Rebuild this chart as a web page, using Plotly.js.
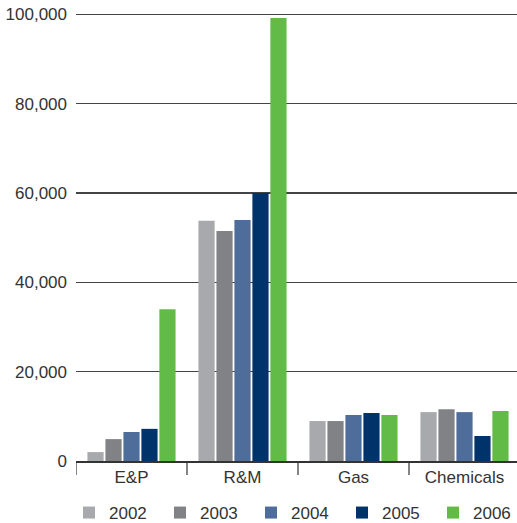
<!DOCTYPE html>
<html>
<head>
<meta charset="utf-8">
<script src="https://cdn.plot.ly/plotly-3.0.1.min.js"></script>
<style>
  html, body { margin: 0; padding: 0; background: #fff; }
  #chart { width: 517px; height: 523px; }
</style>
</head>
<body>
<div id="chart"></div>
<script>
// Segment categories along the x axis
const segments = ['E&P', 'R&M', 'Gas', 'Chemicals'];

// Yearly values per segment
const years = ['2002', '2003', '2004', '2005', '2006'];
const values2002 = [2000, 53800, 8950, 10950];
const values2003 = [4900, 51500, 8950, 11600];
const values2004 = [6500, 54000, 10300, 10950];
const values2005 = [7200, 60000, 10750, 5600];
const values2006 = [34000, 99200, 10300, 11200];

const yTickValues = [0, 20000, 40000, 60000, 80000, 100000];
const yTickLabels = ['0', '20,000', '40,000', '60,000', '80,000', '100,000'];

const seriesValues = [values2002, values2003, values2004, values2005, values2006];
const seriesColors = ['#a7a9ac', '#808285', '#4f6d9a', '#00336a', '#62bb46'];

const traces = years.map((yr, i) => ({
  type: 'bar',
  name: yr,
  x: segments,
  y: seriesValues[i],
  marker: { color: seriesColors[i], line: { width: 0 } },
  hoverinfo: 'skip'
}));

// Short vertical dividers between the segment groups, below the axis
const dividers = segments.map((_, i) => ({
  type: 'line',
  xref: 'x', yref: 'paper',
  x0: i - 0.5, x1: i - 0.5,
  y0: 0, y1: -14 / 449,
  line: { color: '#333333', width: 1.2 }
}));

const font = { family: 'Liberation Sans, Arial, sans-serif', size: 17, color: '#333333' };

const layout = {
  width: 517,
  height: 523,
  margin: { l: 76, r: 0, t: 12, b: 62, autoexpand: false },
  paper_bgcolor: '#ffffff',
  plot_bgcolor: '#ffffff',
  font: font,
  showlegend: true,
  barmode: 'group',
  bargap: 0.19,
  bargroupgap: 0.1,
  xaxis: {
    type: 'category',
    range: [-0.5, 3.473],
    showgrid: false,
    showline: true,
    linecolor: '#333333',
    linewidth: 2,
    ticks: '',
    tickfont: font,
    ticklabelstandoff: 0,
    fixedrange: true
  },
  yaxis: {
    range: [0, 100560],
    tickvals: yTickValues,
    ticktext: yTickLabels,
    showgrid: true,
    gridcolor: '#444444',
    gridwidth: 1.3,
    zeroline: false,
    showline: false,
    ticks: '',
    ticklabelstandoff: 8,
    tickfont: font,
    fixedrange: true
  },
  legend: {
    orientation: 'h',
    xref: 'paper',
    yref: 'paper',
    x: -7 / 441,
    xanchor: 'left',
    y: -52 / 449,
    yanchor: 'middle',
    font: font,
    entrywidth: 46,
    traceorder: 'normal',
    itemclick: false,
    itemdoubleclick: false
  },
  shapes: dividers
};

Plotly.newPlot('chart', traces, layout, { displayModeBar: false, staticPlot: true });
</script>
</body>
</html>
